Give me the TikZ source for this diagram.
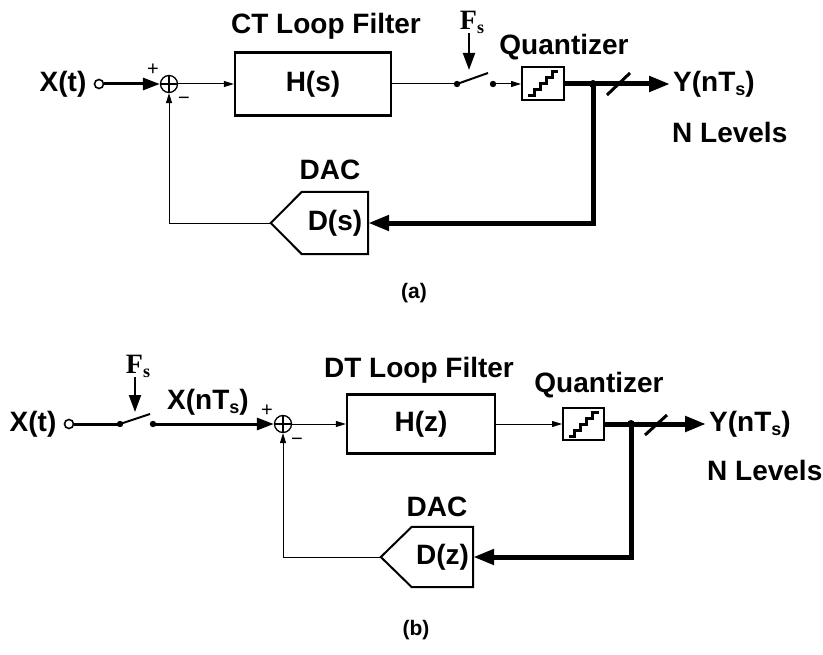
\documentclass[tikz,border=0pt]{standalone}
\usepackage{fontspec}
\setmainfont{Liberation Sans}
\newfontfamily\timesfont{Liberation Serif}
\usetikzlibrary{arrows.meta,positioning}

\tikzset{
    lbl/.style={font=\bfseries\fontsize{28bp}{30bp}\selectfont, inner sep=0pt},
    caplbl/.style={font=\bfseries\fontsize{21bp}{23bp}\selectfont, inner sep=0pt},
    sign/.style={font=\fontsize{20bp}{20bp}\selectfont, inner sep=0pt},
    fslbl/.style={font=\timesfont\bfseries\fontsize{28bp}{30bp}\selectfont, inner sep=0pt},
    sigthin/.style={line width=1bp},
    sigmid/.style={line width=3bp},
    sigbus/.style={line width=5bp},
    smalltip/.tip={Triangle[length=10bp,width=6bp]},
    midtip/.tip={Triangle[length=17bp,width=12bp]},
    bigtip/.tip={Triangle[length=21bp,width=15bp]},
    incircle/.style={circle, draw, line width=1.6bp, minimum size=9bp, inner sep=0pt},
    sumnode/.style={circle, draw, line width=1.3bp, minimum size=17bp, inner sep=0pt,
        path picture={\draw[line width=1.3bp] (path picture bounding box.north) -- (path picture bounding box.south)
            (path picture bounding box.west) -- (path picture bounding box.east);}},
    filterbox/.style={lbl, draw, line width=2.3bp},
    dacbox/.style={lbl, minimum height=62bp},
    quantbox/.style={draw, line width=2bp, minimum width=42bp, minimum height=33bp, inner sep=0pt,
        path picture={\draw[line width=3bp] ([shift={(-15bp,-12bp)}]path picture bounding box.center)
            -- ++(6bp,0bp) -- ++(0bp,6bp) -- ++(6bp,0bp) -- ++(0bp,6bp) -- ++(6bp,0bp)
            -- ++(0bp,6bp) -- ++(6bp,0bp) -- ++(0bp,6bp) -- ++(6bp,0bp);}}
}

\newcommand{\subs}[1]{\raisebox{-4bp}{\fontsize{18bp}{18bp}\selectfont #1}}

\begin{document}
\begin{tikzpicture}[x=1bp, y=-1bp]
\useasboundingbox (0,0) rectangle (823,655);

% ---------- (a) continuous time ----------
\node[lbl] (xa) at (63,84) {X(t)};
\node[incircle] (ina) at (99,84) {};
\node[sumnode] (suma) at (169,84) {};
\node[sign] (plusa) at (153,70) {+};
\node[sign] (minusa) at (184,101) {−};
\node[filterbox, minimum width=156bp, minimum height=63bp] (ha) at (313,84) {H(s)};
\node[lbl] (cta) at (326,26) {CT Loop Filter};

% sampling switch
\coordinate (swla) at (457,84);
\coordinate (swra) at (493,84);
\coordinate (bladea) at (488,73);
\coordinate (fstipa) at (469,70);
\fill (swla) circle (3.2bp) (swra) circle (3.2bp);
\draw[line width=2bp] (swla) -- (bladea);
\node[fslbl] (fsa) at (472,22) {F\subs{s}};
\draw[line width=2bp, -midtip] (fsa.south -| fstipa) -- (fstipa);

% quantizer and output
\node[quantbox] (qa) at (543,84) {};
\node[lbl] (qla) at (564,47) {Quantizer};
\coordinate (joina) at (593,84);
\coordinate (outa) at (670,84);
\node[lbl, right=3bp of outa] (ya) {Y(nT\subs{s})};
\node[lbl, anchor=west] (nla) at (672,132) {N Levels};

% DAC
\node[dacbox, minimum width=66bp] (da) at (335,223) {D(s)};
\coordinate (dtipa) at ([xshift=-31bp]da.west);
\draw[line width=2bp] (da.north west) -- (da.north east) -- (da.south east) -- (da.south west) -- (dtipa) -- cycle;
\node[lbl] (daca) at (330,170) {DAC};

% connections
\draw[sigmid, -midtip] (ina.east) -- (suma.west);
\draw[sigthin, -smalltip] (suma.east) -- (ha.west);
\draw[sigthin] (ha.east) -- (swla);
\draw[sigthin, -smalltip] (swra) -- (qa.west);
\draw[sigbus, -bigtip] (qa.east) -- (outa);
\fill (joina) circle (4bp);
\draw[line width=3bp] (607,95) -- (630,73);
\draw[sigbus, -bigtip] (joina) |- (da.east);
\draw[sigthin, -smalltip] (dtipa) -| (suma.south);

\node[caplbl] (capa) at (414,293) {(a)};

% ---------- (b) discrete time ----------
\node[lbl] (xb) at (33,424) {X(t)};
\node[incircle] (inb) at (69,424) {};

% sampling switch
\coordinate (swlb) at (120,424);
\coordinate (swrb) at (153,424);
\coordinate (bladeb) at (150,414);
\coordinate (fstipb) at (135,412);
\fill (swlb) circle (3.2bp) (swrb) circle (3.2bp);
\draw[line width=2bp] (swlb) -- (bladeb);
\node[fslbl] (fsb) at (138,366) {F\subs{s}};
\draw[line width=2bp, -midtip] (fsb.south -| fstipb) -- (fstipb);
\node[lbl] (xnb) at (208,402) {X(nT\subs{s})};

\node[sumnode] (sumb) at (283,424) {};
\node[sign] (plusb) at (267,411) {+};
\node[sign] (minusb) at (297,442) {−};
\node[filterbox, minimum width=148bp, minimum height=59bp] (hb) at (421,424) {H(z)};
\node[lbl] (dtb) at (419,370) {DT Loop Filter};

% quantizer and output
\node[quantbox, minimum width=41bp, minimum height=32bp] (qb) at (583.5,424) {};
\node[lbl] (qlb) at (599,385) {Quantizer};
\coordinate (joinb) at (631,424);
\coordinate (outb) at (706,424);
\node[lbl, right=3bp of outb] (yb) {Y(nT\subs{s})};
\node[lbl, anchor=west] (nlb) at (707,470) {N Levels};

% DAC
\node[dacbox, minimum width=61bp, minimum height=60bp] (db) at (442.5,557) {D(z)};
\coordinate (dtipb) at ([xshift=-31bp]db.west);
\draw[line width=2bp] (db.north west) -- (db.north east) -- (db.south east) -- (db.south west) -- (dtipb) -- cycle;
\node[lbl] (dacb) at (437,507) {DAC};

% connections
\draw[sigmid] (inb.east) -- (swlb);
\draw[sigmid, -midtip] (swrb) -- (sumb.west);
\draw[sigthin, -smalltip] (sumb.east) -- (hb.west);
\draw[sigthin, -smalltip] (hb.east) -- (qb.west);
\draw[sigbus, -bigtip] (qb.east) -- (outb);
\fill (joinb) circle (4bp);
\draw[line width=3bp] (645,435) -- (667,415);
\draw[sigbus, -bigtip] (joinb) |- (db.east);
\draw[sigthin, -smalltip] (dtipb) -| (sumb.south);

\node[caplbl] (capb) at (416,630) {(b)};
\end{tikzpicture}
\end{document}
